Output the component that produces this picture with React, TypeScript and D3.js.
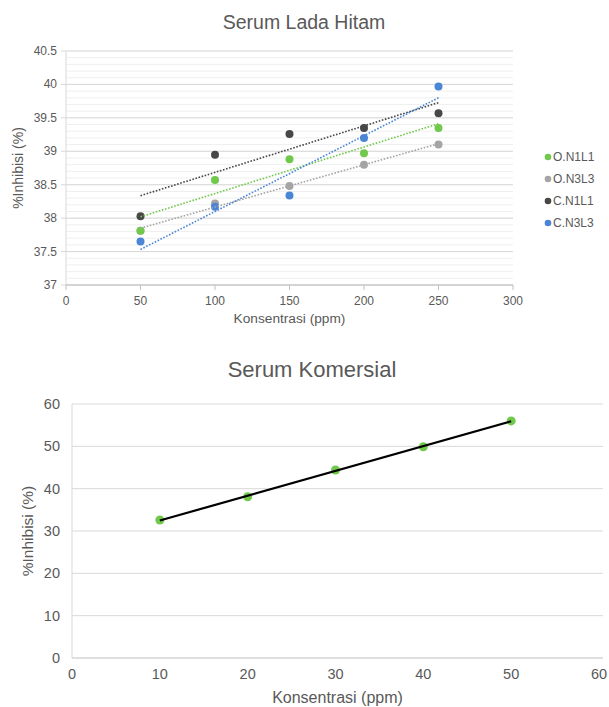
import React from "react";
import * as d3 from "d3";

// Serum Lada Hitam (top chart)
const conc = [50, 100, 150, 200, 250];
const seriesNames = ["O.N1L1", "O.N3L3", "C.N1L1", "C.N3L3"];
const oN1L1 = [37.81, 38.57, 38.88, 38.97, 39.35];
const oN3L3 = [37.81, 38.22, 38.48, 38.8, 39.1];
const cN1L1 = [38.03, 38.95, 39.26, 39.35, 39.57];
const cN3L3 = [37.65, 38.17, 38.34, 39.2, 39.97];
const topXTicks = [0, 50, 100, 150, 200, 250, 300];
const topYTicks = [37, 37.5, 38, 38.5, 39, 39.5, 40, 40.5];

// Serum Komersial (bottom chart)
const komConc = [10, 20, 30, 40, 50];
const komInhib = [32.6, 38.1, 44.4, 49.9, 56.0];
const botXTicks = [0, 10, 20, 30, 40, 50, 60];
const botYTicks = [0, 10, 20, 30, 40, 50, 60];

const colors = ["#71c94c", "#a5a5a5", "#474747", "#4a85d6"];
const txt = "#595959";
const font = "'Liberation Sans', Arial, sans-serif";

// simple least squares fit
const fit = (xs: number[], ys: number[]) => {
  const mx = d3.mean(xs) as number;
  const my = d3.mean(ys) as number;
  const num = d3.sum(xs, (x, i) => (x - mx) * (ys[i] - my));
  const den = d3.sum(xs, (x) => (x - mx) * (x - mx));
  const b = num / den;
  return (x: number) => my + b * (x - mx);
};

const App = () => {
  const w = 609;
  const h = 707;

  // top scales
  const x1 = d3.scaleLinear().domain([0, 300]).range([66, 513]);
  const y1 = d3.scaleLinear().domain([37, 40.5]).range([285, 51]);
  const minor = d3.range(370, 406).map((v) => v / 10);
  const topData = [oN1L1, oN3L3, cN1L1, cN3L3];
  const drawOrder = [1, 0, 2, 3];

  // bottom scales
  const x2 = d3.scaleLinear().domain([0, 60]).range([72, 599]);
  const y2 = d3.scaleLinear().domain([0, 60]).range([658, 404]);
  const komFit = fit(komConc, komInhib);

  return (
    <svg
      width={w}
      height={h}
      style={{ position: "absolute", left: 0, top: 0, background: "#fff" }}
      fontFamily={font}
    >
      {/* ---- top chart ---- */}
      <text x={304} y={29} textAnchor="middle" fontSize={19.5} fill={txt}>
        Serum Lada Hitam
      </text>
      {minor.map((v) => (
        <line key={"m" + v} x1={x1(0)} x2={x1(300)} y1={y1(v)} y2={y1(v)} stroke="#efefef" strokeWidth={1} />
      ))}
      {topYTicks.map((v) => (
        <g key={"ty" + v}>
          <line x1={x1(0)} x2={x1(300)} y1={y1(v)} y2={y1(v)} stroke="#d9d9d9" strokeWidth={1} />
          <line x1={x1(0) - 5} x2={x1(0)} y1={y1(v)} y2={y1(v)} stroke="#d9d9d9" />
          <text x={x1(0) - 9} y={y1(v) + 4} textAnchor="end" fontSize={12} fill={txt}>
            {v}
          </text>
        </g>
      ))}
      <line x1={x1(0)} x2={x1(0)} y1={y1(40.5)} y2={y1(37)} stroke="#d9d9d9" />
      <line x1={x1(0)} x2={x1(300)} y1={y1(37)} y2={y1(37)} stroke="#bfbfbf" />
      {topXTicks.map((v) => (
        <g key={"tx" + v}>
          <line x1={x1(v)} x2={x1(v)} y1={y1(37)} y2={y1(37) + 5} stroke="#bfbfbf" />
          <text x={x1(v)} y={305} textAnchor="middle" fontSize={12} fill={txt}>
            {v}
          </text>
        </g>
      ))}
      <text x={289.5} y={323} textAnchor="middle" fontSize={13.7} fill={txt}>
        Konsentrasi (ppm)
      </text>
      <text
        transform={`translate(23, ${(y1(37) + y1(40.5)) / 2}) rotate(-90)`}
        textAnchor="middle"
        fontSize={14}
        fill={txt}
      >
        %Inhibisi (%)
      </text>
      {drawOrder.map((si) =>
        topData[si].map((v, i) => (
          <circle key={"p" + si + "-" + i} cx={x1(conc[i])} cy={y1(v)} r={4} fill={colors[si]} />
        ))
      )}
      {drawOrder.map((si) => {
        const f = fit(conc, topData[si]);
        const x0 = conc[0];
        const xe = conc[conc.length - 1];
        return (
          <line
            key={"t" + si}
            x1={x1(x0)}
            x2={x1(xe)}
            y1={y1(f(x0))}
            y2={y1(f(xe))}
            stroke={colors[si]}
            strokeWidth={1.6}
            strokeDasharray="1.6 1.6"
          />
        );
      })}
      {seriesNames.map((n, i) => (
        <g key={"lg" + n} transform={`translate(548, ${157 + i * 22})`}>
          <circle cx={0} cy={0} r={3.3} fill={colors[i]} />
          <text x={5} y={4.2} fontSize={12} fill={txt}>
            {n}
          </text>
        </g>
      ))}

      {/* ---- bottom chart ---- */}
      <text x={312} y={377} textAnchor="middle" fontSize={22} fill={txt}>
        Serum Komersial
      </text>
      {botYTicks.map((v) => (
        <g key={"by" + v}>
          <line x1={x2(0)} x2={603} y1={y2(v)} y2={y2(v)} stroke={v === 0 ? "#bfbfbf" : "#d9d9d9"} />
          <text x={x2(0) - 12} y={y2(v) + 5} textAnchor="end" fontSize={14.5} fill={txt}>
            {v}
          </text>
        </g>
      ))}
      <line x1={x2(0)} x2={x2(0)} y1={y2(60)} y2={y2(0)} stroke="#d9d9d9" />
      {botXTicks.map((v) => (
        <text key={"bx" + v} x={x2(v)} y={679} textAnchor="middle" fontSize={14.5} fill={txt}>
          {v}
        </text>
      ))}
      <text x={337.5} y={703} textAnchor="middle" fontSize={16} fill={txt}>
        Konsentrasi (ppm)
      </text>
      <text
        transform={`translate(33, ${(y2(0) + y2(60)) / 2}) rotate(-90)`}
        textAnchor="middle"
        fontSize={15.5}
        fill={txt}
      >
        %Inhibisi (%)
      </text>
      {komInhib.map((v, i) => (
        <circle key={"k" + i} cx={x2(komConc[i])} cy={y2(v)} r={4.5} fill="#71c94c" />
      ))}
      <line
        x1={x2(komConc[0])}
        x2={x2(komConc[komConc.length - 1])}
        y1={y2(komFit(komConc[0]))}
        y2={y2(komFit(komConc[komConc.length - 1]))}
        stroke="#000"
        strokeWidth={2.2}
      />
    </svg>
  );
};

export default App;
